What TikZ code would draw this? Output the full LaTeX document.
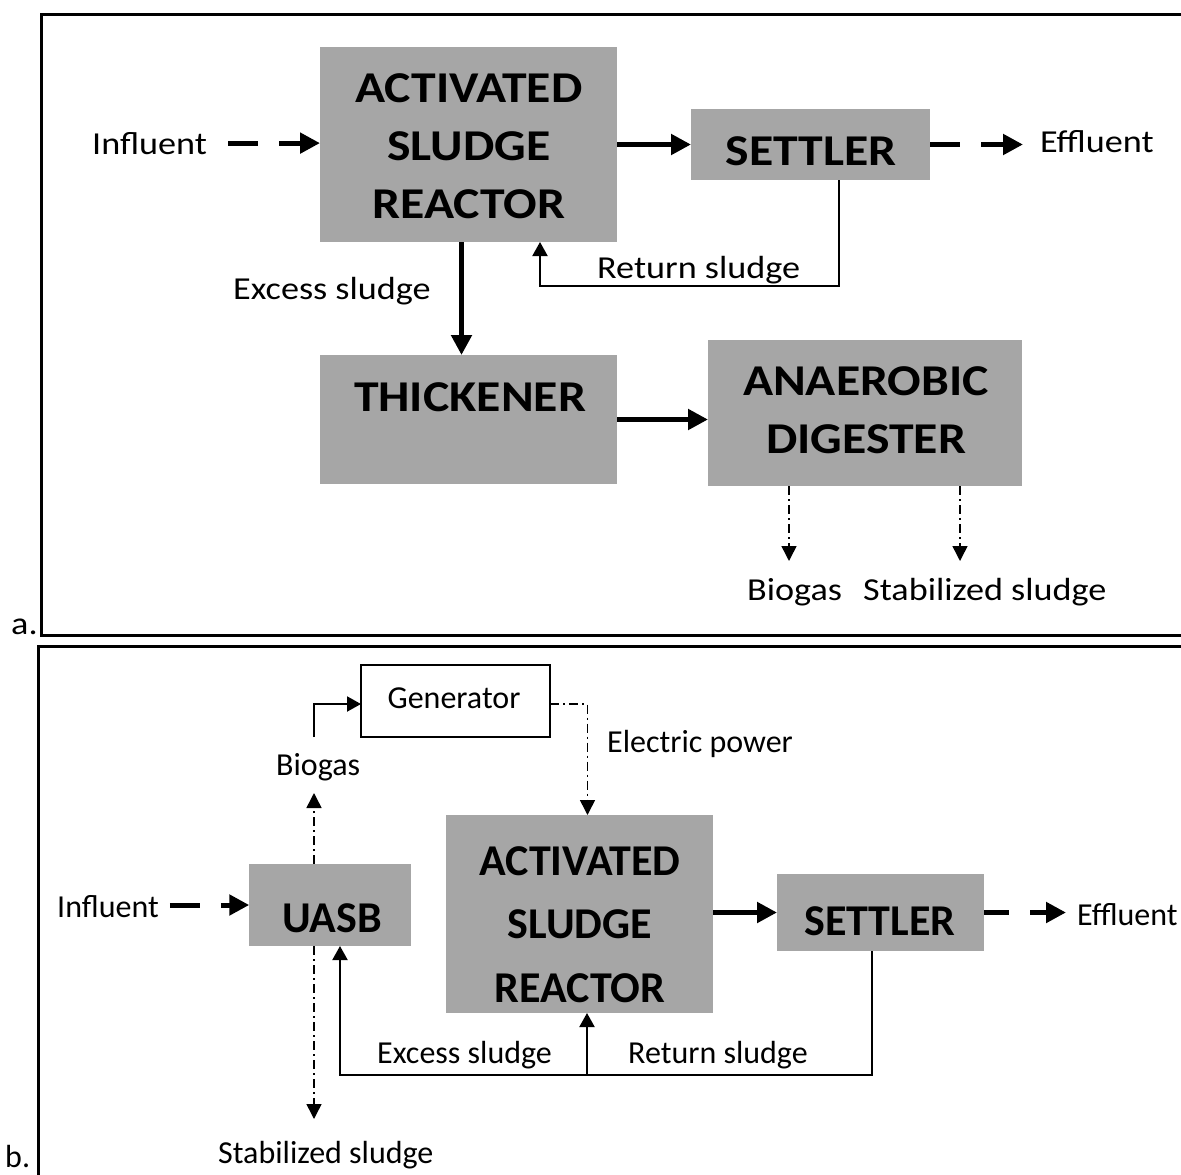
\documentclass[tikz,border=0pt]{standalone}
\usepackage{fontspec}
\setmainfont{Carlito}
\newfontfamily\stretchfont[FakeStretch=1.13]{Carlito}
\usetikzlibrary{arrows.meta}
\definecolor{boxgray}{HTML}{A6A6A6}
\tikzset{
 box/.style={fill=boxgray, inner sep=0pt, outer sep=0pt},
 genbox/.style={draw=black, line width=2pt, fill=white, inner sep=0pt, outer sep=0pt},
 bigA/.style={font=\stretchfont\bfseries\fontsize{44}{50}\selectfont, inner sep=0pt, anchor=base},
 bigB/.style={font=\bfseries\fontsize{44}{50}\selectfont, inner sep=0pt, anchor=base},
 smA/.style={font=\stretchfont\fontsize{32}{36}\selectfont, inner sep=0pt, anchor=base west},
 smB/.style={font=\fontsize{32}{36}\selectfont, inner sep=0pt, anchor=base west},
 thickarrow/.style={line width=5pt, -{Triangle[length=20pt,width=20pt]}},
 dasharrow/.style={thickarrow, dash pattern=on 30pt off 21pt},
 thinarrow/.style={line width=2pt, -{Triangle[length=14pt,width=15pt]}},
 dotarrow/.style={line width=1.5pt, dash pattern=on 9pt off 4pt on 2pt off 4pt, -{Triangle[length=15pt,width=15pt]}},
 frame/.style={line width=3pt}
}
\begin{document}
\begin{tikzpicture}[x=1pt,y=-1pt]
\useasboundingbox (0,0) rectangle (1181,1175);
% frames
\draw[frame] (1195,14) -- (41,14) -- (41,635) -- (1195,635);
\draw[frame] (1195,646) -- (38,646) -- (38,1195);
% ---------- panel a ----------
\node[box, minimum width=297pt, minimum height=195pt] (asra) at (468.5,144.5) {};
\node[box, minimum width=239pt, minimum height=71pt] (seta) at (810.5,144.5) {};
\node[box, minimum width=297pt, minimum height=129pt] (thka) at (468.5,419.5) {};
\node[box, minimum width=314pt, minimum height=146pt] (diga) at (865,413) {};
\node[bigA] (asra1) at (469,102) {ACTIVATED};
\node[bigA] (asra2) at (469,160) {SLUDGE};
\node[bigA] (asra3) at (469,218) {REACTOR};
\node[bigA] (setat) at (811,165) {SETTLER};
\node[bigA] (thkat) at (470,411) {THICKENER};
\node[bigA] (diga1) at (866,395) {ANAEROBIC};
\node[bigA] (diga2) at (866,453) {DIGESTER};
\node[smA] (infa) at (92,154) {Influent};
\node[smA] (effa) at (1040,152) {Effluent};
\node[smA] (reta) at (597,278) {Return sludge};
\node[smA] (exca) at (233,299) {Excess sludge};
\node[smA] (bioa) at (747,600) {Biogas};
\node[smA] (staba) at (863,600) {Stabilized sludge};
\node[smA] (lbla) at (11,634) {a.};
\draw[dasharrow, shorten <=21pt] (infa.east) -- (infa.east -| asra.west);
\draw[thickarrow] (asra.east) -- (seta.west);
\draw[dasharrow, shorten >=17pt] (seta.east) -- (seta.east -| effa.west);
\draw[thinarrow] ([xshift=28.5pt]seta.south) -- ++(0,106) -| ([xshift=71.5pt]asra.south);
\draw[thickarrow] ([xshift=-7pt]asra.south) -- ([xshift=-7pt]thka.north);
\draw[thickarrow] (thka.east) -- (thka.east -| diga.west);
\coordinate (gasa) at (789,561);
\coordinate (stba) at (960,561);
\draw[dotarrow] (gasa |- diga.south) -- (gasa);
\draw[dotarrow] (stba |- diga.south) -- (stba);
% ---------- panel b ----------
\node[genbox, minimum width=189pt, minimum height=72pt] (gen) at (455.5,701) {};
\node[box, minimum width=161.5pt, minimum height=82pt] (uasb) at (330,905) {};
\node[box, minimum width=267pt, minimum height=198pt] (asrb) at (579.5,914) {};
\node[box, minimum width=207pt, minimum height=77pt] (setb) at (880.5,912.5) {};
\node[smB, anchor=base] (gent) at (454,708) {Generator};
\node[bigB] (uasbt) at (332,932) {UASB};
\node[bigB] (asrb1) at (580,875) {ACTIVATED};
\node[bigB] (asrb2) at (580,938) {SLUDGE};
\node[bigB] (asrb3) at (580,1002) {REACTOR};
\node[bigB] (setbt) at (880,935) {SETTLER};
\node[smB] (infb) at (57,917) {Influent};
\node[smB] (biob) at (276,775) {Biogas};
\node[smB] (elec) at (607,752) {Electric power};
\node[smB] (effb) at (1077,925) {Effluent};
\node[smB] (excb) at (377,1063) {Excess sludge};
\node[smB] (retb) at (628,1063) {Return sludge};
\node[smB] (stabb) at (218,1163) {Stabilized sludge};
\node[smB] (lblb) at (5,1167) {b.};
\draw[dasharrow, shorten <=11pt] (infb.east |- uasb.west) -- (uasb.west);
\coordinate (bgtip) at (314,793);
\draw[dotarrow] (bgtip |- uasb.north) -- (bgtip);
\coordinate (bgstart) at (314,737);
\coordinate (genin) at ([yshift=-3pt]gen.west);
\draw[thinarrow] (bgstart) |- (genin);
\coordinate (genout) at ([yshift=-3pt]gen.east);
\draw[dotarrow] (genout) -| ([xshift=8pt]asrb.north);
\draw[thickarrow] (asrb.east |- setb.west) -- (setb.west);
\draw[dasharrow, dash pattern=on 25pt off 21pt, shorten >=11pt] (setb.east) -- (setb.east -| effb.west);
\coordinate (rcorner) at (340,1075);
\draw[thinarrow] ([xshift=-8.5pt]setb.south) |- (rcorner) -- ([xshift=10pt]uasb.south);
\coordinate (asrbin) at ([xshift=7.5pt]asrb.south);
\draw[thinarrow] (asrbin |- rcorner) -- (asrbin);
\coordinate (stbb) at (314,1119);
\draw[dotarrow] (stbb |- uasb.south) -- (stbb);
\end{tikzpicture}
\end{document}
